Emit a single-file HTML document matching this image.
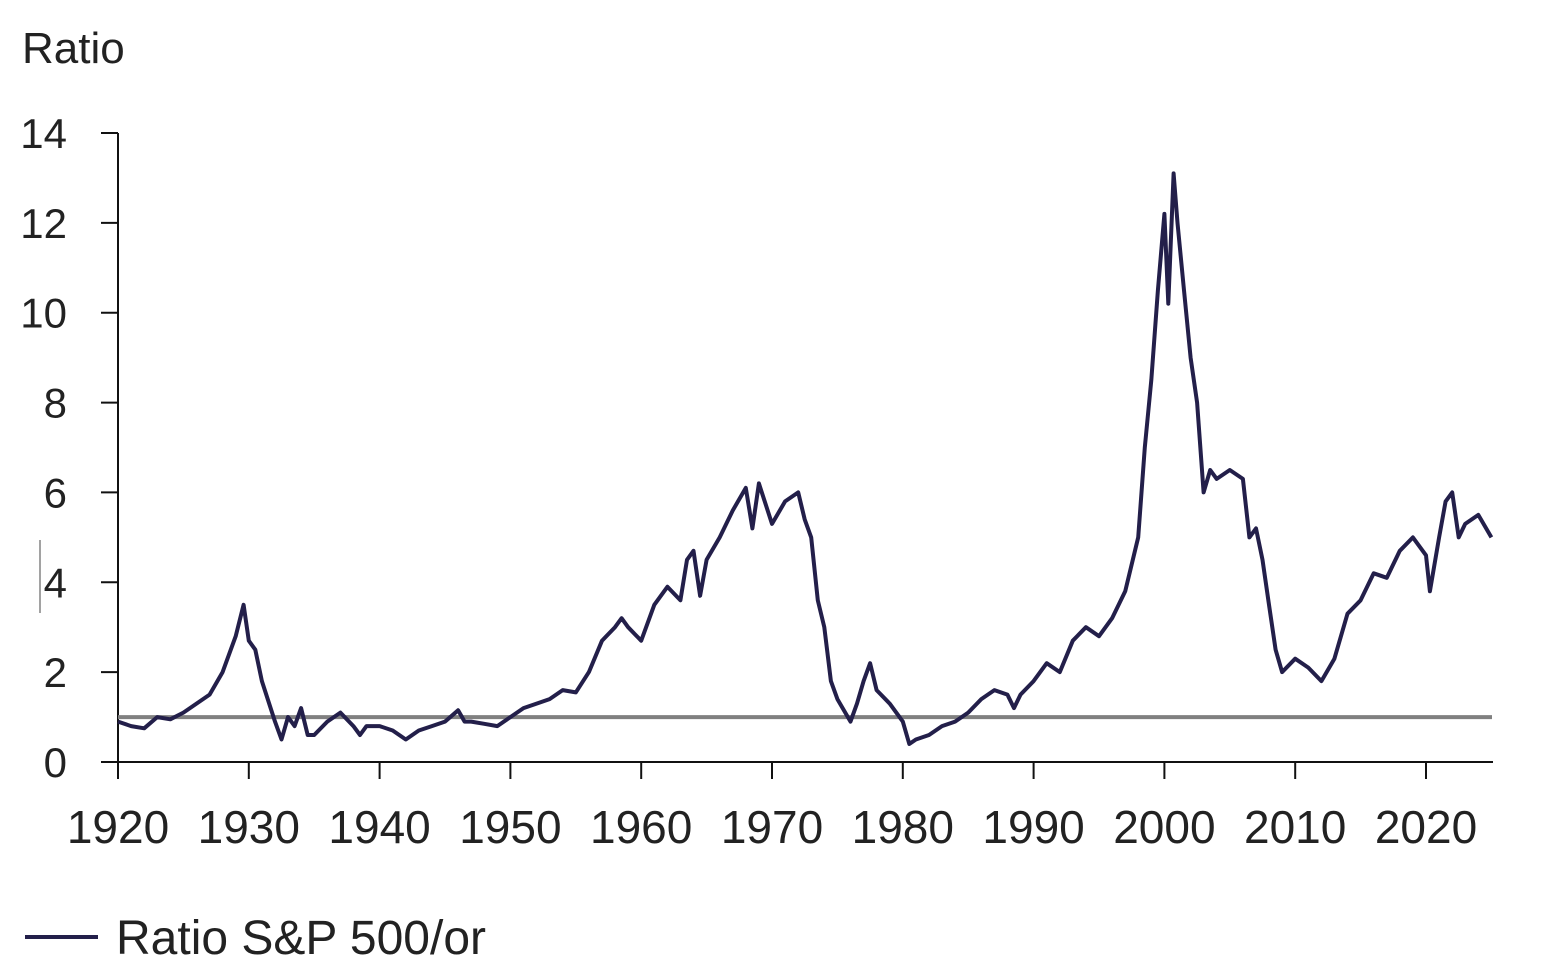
<!DOCTYPE html>
<html><head><meta charset="utf-8">
<style>
html,body{margin:0;padding:0;background:#fff;}
svg{display:block;font-family:"Liberation Sans",sans-serif;}
</style></head>
<body>
<svg id="chart" width="1555" height="980" viewBox="0 0 1555 980">
<text x="22" y="63" font-size="44" fill="#222">Ratio</text>
<g id="yaxis"></g>
<g id="xaxis"></g>
<line x1="40" y1="540" x2="40" y2="613" stroke="#444" stroke-width="1"/>
<g id="plot"></g>
<g>
<line x1="25" y1="937" x2="98" y2="937" stroke="#231f4a" stroke-width="4"/>
<text x="116" y="954" font-size="48" fill="#222">Ratio S&amp;P 500/or</text>
</g>
</svg>
<script>
const years=[1920,1921,1922,1923,1924,1925,1926,1927,1928,1929,1929.6,1930,1930.5,1931,1932,1932.5,1933,1933.5,1934,1934.5,1935,1936,1937,1938,1938.5,1939,1940,1941,1942,1943,1944,1945,1946,1946.5,1947,1948,1949,1950,1951,1952,1953,1954,1955,1956,1957,1958,1958.5,1959,1960,1961,1962,1963,1963.5,1964,1964.5,1965,1966,1967,1968,1968.5,1969,1970,1971,1972,1972.5,1973,1973.5,1974,1974.5,1975,1976,1976.5,1977,1977.5,1978,1979,1980,1980.5,1981,1982,1983,1984,1985,1986,1987,1988,1988.5,1989,1990,1991,1992,1993,1994,1995,1996,1997,1998,1998.5,1999,1999.5,2000,2000.3,2000.7,2001,2001.5,2002,2002.5,2003,2003.5,2004,2005,2006,2006.5,2007,2007.5,2008,2008.5,2009,2010,2011,2012,2013,2014,2015,2016,2017,2018,2019,2020,2020.3,2021,2021.5,2022,2022.5,2023,2024,2025];
const ratios=[0.9,0.8,0.75,1.0,0.95,1.1,1.3,1.5,2.0,2.8,3.5,2.7,2.5,1.8,0.9,0.5,1.0,0.8,1.2,0.6,0.6,0.9,1.1,0.8,0.6,0.8,0.8,0.7,0.5,0.7,0.8,0.9,1.15,0.9,0.9,0.85,0.8,1.0,1.2,1.3,1.4,1.6,1.55,2.0,2.7,3.0,3.2,3.0,2.7,3.5,3.9,3.6,4.5,4.7,3.7,4.5,5.0,5.6,6.1,5.2,6.2,5.3,5.8,6.0,5.4,5.0,3.6,3.0,1.8,1.4,0.9,1.3,1.8,2.2,1.6,1.3,0.9,0.4,0.5,0.6,0.8,0.9,1.1,1.4,1.6,1.5,1.2,1.5,1.8,2.2,2.0,2.7,3.0,2.8,3.2,3.8,5.0,7.0,8.5,10.5,12.2,10.2,13.1,12.0,10.5,9.0,8.0,6.0,6.5,6.3,6.5,6.3,5.0,5.2,4.5,3.5,2.5,2.0,2.3,2.1,1.8,2.3,3.3,3.6,4.2,4.1,4.7,5.0,4.6,3.8,5.0,5.8,6.0,5.0,5.3,5.5,5.0];
const yTicks=[0,2,4,6,8,10,12,14];
const xTicks=[1920,1930,1940,1950,1960,1970,1980,1990,2000,2010,2020];
const refValue=1;

const NS="http://www.w3.org/2000/svg";
const X=y=>118+(y-1920)*13.08;
const Y=v=>762-v*(629/14);
function mk(tag,attrs,parent){const e=document.createElementNS(NS,tag);for(const k in attrs)e.setAttribute(k,attrs[k]);parent.appendChild(e);return e;}
const ya=document.getElementById('yaxis'),xa=document.getElementById('xaxis'),pl=document.getElementById('plot');
mk('line',{x1:118,y1:133,x2:118,y2:762,stroke:'#111','stroke-width':2},ya);
yTicks.forEach(t=>{
 const l=mk('line',{x1:101,y1:Y(t),x2:118,y2:Y(t),stroke:'#111','stroke-width':2},ya);
 
 
 const tx=mk('text',{x:67,y:Y(t)+15,'font-size':42,fill:'#222','text-anchor':'end'},ya);
 tx.textContent=t;
 
 
});
mk('line',{x1:101,y1:762,x2:1493,y2:762,stroke:'#111','stroke-width':2},xa);
xTicks.forEach(t=>{
 const l=mk('line',{x1:X(t),y1:762,x2:X(t),y2:779,stroke:'#111','stroke-width':2},xa);
 
 
 const tx=mk('text',{x:X(t),y:843,'font-size':46,fill:'#222','text-anchor':'middle'},xa);
 tx.textContent=t;
 
 
});
const ref=mk('line',{x1:118,y1:Y(refValue),x2:1492,y2:Y(refValue),stroke:'#808080','stroke-width':4},pl);


const d=years.map((y,i)=>(i?'L':'M')+X(y).toFixed(1)+' '+Y(ratios[i]).toFixed(1)).join(' ');
const p=mk('path',{d:d,fill:'none',stroke:'#231f4a','stroke-width':4,'stroke-linejoin':'round'},pl);


</script>
</body></html>
